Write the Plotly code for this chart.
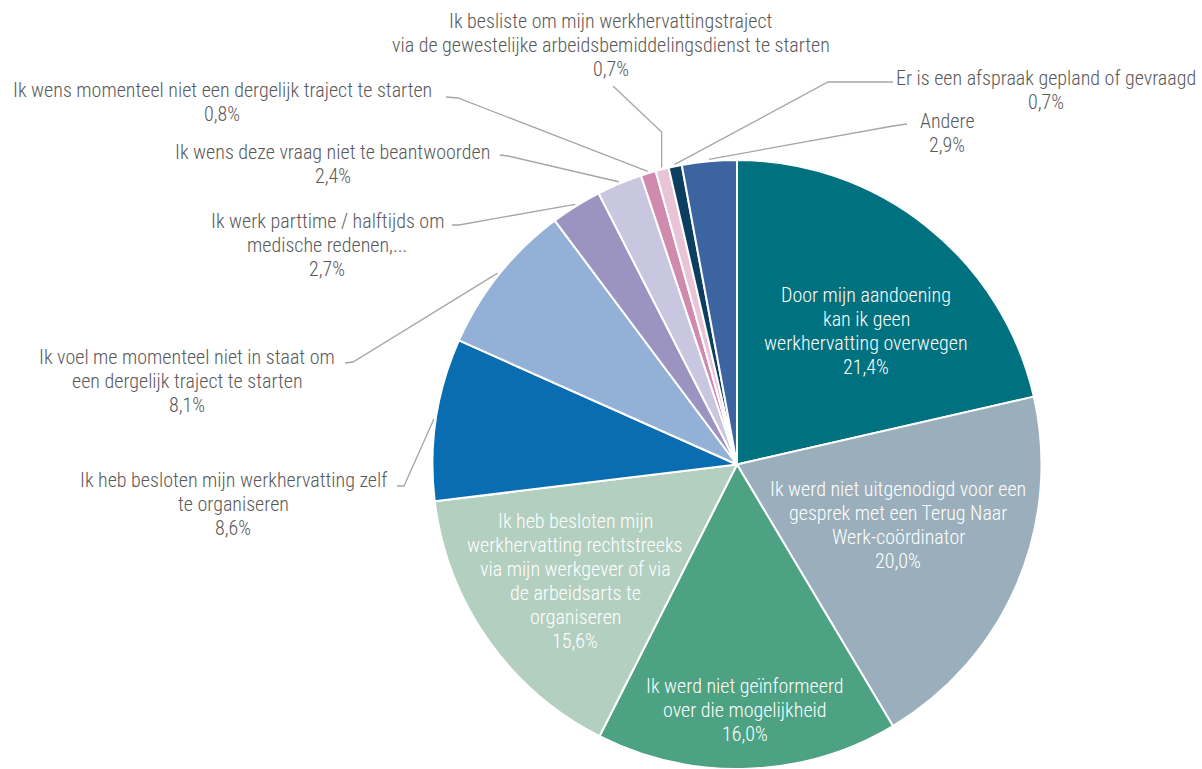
import math
import plotly.graph_objects as go

# Survey answers (clockwise from 12 o'clock) and their shares in percent
categories = [
    "Door mijn aandoening kan ik geen werkhervatting overwegen",
    "Ik werd niet uitgenodigd voor een gesprek met een Terug Naar Werk-coördinator",
    "Ik werd niet geïnformeerd over die mogelijkheid",
    "Ik heb besloten mijn werkhervatting rechtstreeks via mijn werkgever of via de arbeidsarts te organiseren",
    "Ik heb besloten mijn werkhervatting zelf te organiseren",
    "Ik voel me momenteel niet in staat om een dergelijk traject te starten",
    "Ik werk parttime / halftijds om medische redenen,...",
    "Ik wens deze vraag niet te beantwoorden",
    "Ik wens momenteel niet een dergelijk traject te starten",
    "Ik besliste om mijn werkhervattingstraject via de gewestelijke arbeidsbemiddelingsdienst te starten",
    "Er is een afspraak gepland of gevraagd",
    "Andere",
]
shares = [21.4, 20.0, 16.0, 15.6, 8.6, 8.1, 2.7, 2.4, 0.8, 0.7, 0.7, 2.9]

# Label text split over lines, as printed next to / inside each slice
label_lines = [
    ["Door mijn aandoening", "kan ik geen", "werkhervatting overwegen"],
    ["Ik werd niet uitgenodigd voor een", "gesprek met een Terug Naar", "Werk-coördinator"],
    ["Ik werd niet geïnformeerd", "over die mogelijkheid"],
    ["Ik heb besloten mijn", "werkhervatting rechtstreeks", "via mijn werkgever of via", "de arbeidsarts te", "organiseren"],
    ["Ik heb besloten mijn werkhervatting zelf", "te organiseren"],
    ["Ik voel me momenteel niet in staat om", "een dergelijk traject te starten"],
    ["Ik werk parttime / halftijds om", "medische redenen,..."],
    ["Ik wens deze vraag niet te beantwoorden"],
    ["Ik wens momenteel niet een dergelijk traject te starten"],
    ["Ik besliste om mijn werkhervattingstraject", "via de gewestelijke arbeidsbemiddelingsdienst te starten"],
    ["Er is een afspraak gepland of gevraagd"],
    ["Andere"],
]

colors = [
    "#00717f", "#9aafbb", "#4ca283", "#b3cfc0", "#0a6db1", "#93b1d6",
    "#9b94c0", "#c9c6e0", "#d08aae", "#e9c4d7", "#0b3e5f", "#3c64a0",
]

W, H = 1202, 769
CX, TOP, R = 737, 160, 304.5
FONT = "Roboto Condensed, Roboto, sans-serif"
FS = 20
LINE_H = 24
GREY_TEXT = "#595959"
LEADER = "#a6a6a6"

# label block placement: (centre x px, first line y px, inside slice?)
label_place = [
    (866, 295, True),
    (898, 489, True),
    (745, 686, True),
    (575, 521, True),
    (233, 480, False),
    (187, 357, False),
    (327, 221, False),
    (333, 152, False),
    (222, 90, False),
    (611, 21, False),
    (1046, 78, False),
    (947, 121, False),
]

# leader polylines from the label towards the slice: start point and bend point (px)
leader_paths = {
    4: [(397, 486), (404, 486)],
    5: [(345, 363), (353, 362)],
    6: [(452, 225), (459, 225)],
    7: [(500, 155), (508, 156)],
    8: [(446, 97), (458, 98)],
    9: [(613, 86), None],
    10: [(893, 82), (828, 82)],
    11: [(907, 124), (893, 126)],
}

CY = TOP + R


def px(x, y):
    return x / W, 1 - y / H


fig = go.Figure(
    go.Pie(
        labels=categories,
        values=shares,
        sort=False,
        direction="clockwise",
        rotation=0,
        marker=dict(colors=colors, line=dict(color="white", width=2)),
        textinfo="none",
        hoverinfo="label+value",
        showlegend=False,
        domain=dict(x=[(CX - R) / W, (CX + R) / W], y=[1 - (TOP + 2 * R) / H, 1 - TOP / H]),
    )
)

annotations = []
shapes = []
total = sum(shares)
cum = 0.0
for i, v in enumerate(shares):
    mid = (cum + v / 2) / total
    cum += v
    ang = 2 * math.pi * mid
    # edge point of the slice at its middle angle
    ex = CX + (R + 2) * math.sin(ang)
    ey = CY - (R + 2) * math.cos(ang)

    cx, y0, inside = label_place[i]
    lines = label_lines[i] + [f"{v:.1f}%".replace(".", ",")]
    for k, line in enumerate(lines):
        xp, yp = px(cx, y0 + k * LINE_H)
        annotations.append(dict(
            x=xp, y=yp, xref="paper", yref="paper", text=line, showarrow=False,
            xanchor="center", yanchor="middle",
            font=dict(family=FONT, size=FS, color="white" if inside else GREY_TEXT, weight=300),
        ))

    if i in leader_paths:
        start, bend = leader_paths[i]
        if bend is None:
            bend = (ex, 132)
        pts = [start, bend, (ex, ey)]
        path = "M " + " L ".join(f"{px(x, y)[0]:.5f},{px(x, y)[1]:.5f}" for x, y in pts)
        shapes.append(dict(type="path", xref="paper", yref="paper", path=path,
                           line=dict(color=LEADER, width=1.3)))

fig.update_layout(
    width=W, height=H,
    margin=dict(l=0, r=0, t=0, b=0),
    paper_bgcolor="white",
    plot_bgcolor="white",
    annotations=annotations,
    shapes=shapes,
)

fig.write_html("out.html")
